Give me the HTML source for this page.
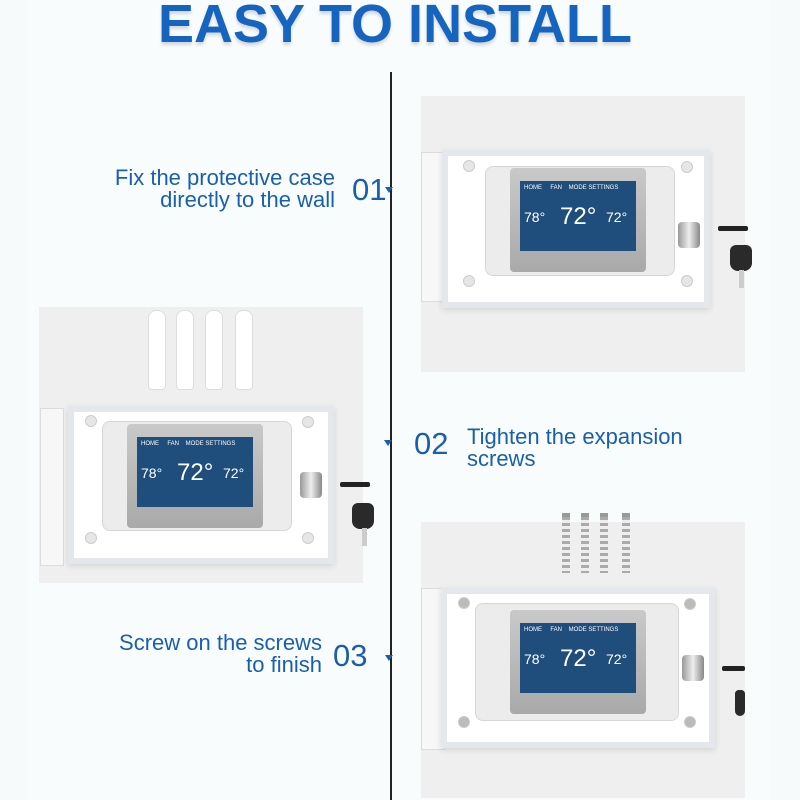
<!DOCTYPE html>
<html><head><meta charset="utf-8"><style>
*{margin:0;padding:0;box-sizing:border-box}
body{width:800px;height:800px;background:#f6fafb;position:relative;overflow:hidden;font-family:"Liberation Sans",sans-serif}
.a{position:absolute}
.panel{position:absolute;background:#efefef}
.case{position:absolute;background:#fff;border:6px solid #e4e8ec;box-shadow:0 2px 6px rgba(0,0,0,.12)}
.door{position:absolute;background:#f7f7f7;border:1px solid #dcdcdc}
.recess{position:absolute;background:#ececec;border:1px solid #d6d6d6;border-radius:8px}
.bez{position:absolute;width:136px;height:104px;background:linear-gradient(#c9c9c9,#a9a9a9);border-radius:4px}
.scr{position:absolute;left:10px;top:13px;width:116px;height:70px;background:#1f4e7c;color:#fff;font-size:5px}
.scr span{position:absolute}
.hole{position:absolute;width:12px;height:12px;border-radius:50%;background:#e6e6e6;border:1px solid #ccc}
.title{position:absolute;left:0;width:790px;top:-7px;text-align:center;font-size:54px;font-weight:bold;color:#1565c0;letter-spacing:0px;text-shadow:0 3px 3px rgba(0,0,0,.15)}
.txt{position:absolute;color:#1a5fae;font-size:22px;line-height:22px}
.num{position:absolute;color:#1a5fae;font-size:31px}
.tri{position:absolute;width:0;height:0;border-left:4px solid transparent;border-right:4px solid transparent;border-top:6px solid #1a5fae}
.lock{position:absolute;width:22px;height:26px;background:linear-gradient(90deg,#999,#eee,#888);border-radius:4px}
.kb{position:absolute;width:30px;height:5px;background:#222;border-radius:2px}
.key{position:absolute;width:22px;height:26px;background:#2a2a2a;border-radius:6px 6px 8px 8px}
.kt{position:absolute;width:5px;height:18px;background:#ccc}
.anchor{position:absolute;width:18px;height:80px;background:#fff;border:1px solid #ddd;border-radius:8px 8px 4px 4px}
.screw{position:absolute;width:8px;height:60px;background:repeating-linear-gradient(#aaa 0 3px,#eee 3px 6px);border-top:4px solid #999}
</style></head><body>
<div class="a" style="left:28px;top:0;width:742px;height:800px;background:#f9fcfd"></div>
<div class="title">EASY TO INSTALL</div>
<div class="a" style="left:390px;top:72px;width:2px;height:728px;background:#222"></div>

<div class="txt" style="left:40px;top:167px;width:295px;text-align:right">Fix the protective case<br>directly to the wall</div>
<div class="num" style="left:352px;top:172px">01</div>
<div class="tri" style="left:385px;top:187px"></div>
<div class="tri" style="left:384px;top:440px"></div>
<div class="num" style="left:414px;top:426px">02</div>
<div class="txt" style="left:467px;top:426px">Tighten the expansion<br>screws</div>
<div class="txt" style="left:40px;top:632px;width:282px;text-align:right">Screw on the screws<br>to finish</div>
<div class="num" style="left:333px;top:638px">03</div>
<div class="tri" style="left:385px;top:655px"></div>

<!-- panel 1 -->
<div class="panel" style="left:421px;top:96px;width:324px;height:276px"></div>
<div class="door" style="left:421px;top:152px;width:24px;height:150px"></div>
<div class="case" style="left:442px;top:150px;width:268px;height:158px"></div>
<div class="recess" style="left:485px;top:166px;width:190px;height:110px"></div>
<div class="hole" style="left:463px;top:160px"></div><div class="hole" style="left:681px;top:161px"></div>
<div class="hole" style="left:463px;top:275px"></div><div class="hole" style="left:681px;top:275px"></div>
<div class="bez" style="left:510px;top:168px"><div class="scr"><span style="left:4px;top:4px;font-size:6px">HOME&nbsp;&nbsp;&nbsp;&nbsp;&nbsp;FAN&nbsp;&nbsp;&nbsp;&nbsp;MODE&nbsp;SETTINGS</span><span style="left:4px;top:28px;font-size:14px">78°</span><span style="left:40px;top:22px;font-size:24px">72°</span><span style="left:86px;top:28px;font-size:14px">72°</span></div></div>
<div class="lock" style="left:678px;top:222px"></div>
<div class="kb" style="left:718px;top:226px"></div>
<div class="key" style="left:730px;top:245px"></div><div class="kt" style="left:739px;top:270px"></div>

<!-- panel 2 -->
<div class="panel" style="left:39px;top:307px;width:324px;height:276px"></div>
<div class="anchor" style="left:148px;top:310px"></div><div class="anchor" style="left:176px;top:310px"></div><div class="anchor" style="left:205px;top:310px"></div><div class="anchor" style="left:235px;top:310px"></div>
<div class="door" style="left:40px;top:408px;width:24px;height:158px"></div>
<div class="case" style="left:68px;top:406px;width:266px;height:158px"></div>
<div class="recess" style="left:102px;top:421px;width:190px;height:110px"></div>
<div class="hole" style="left:85px;top:415px"></div><div class="hole" style="left:302px;top:416px"></div>
<div class="hole" style="left:85px;top:532px"></div><div class="hole" style="left:302px;top:532px"></div>
<div class="bez" style="left:127px;top:424px"><div class="scr"><span style="left:4px;top:4px;font-size:6px">HOME&nbsp;&nbsp;&nbsp;&nbsp;&nbsp;FAN&nbsp;&nbsp;&nbsp;&nbsp;MODE&nbsp;SETTINGS</span><span style="left:4px;top:28px;font-size:14px">78°</span><span style="left:40px;top:22px;font-size:24px">72°</span><span style="left:86px;top:28px;font-size:14px">72°</span></div></div>
<div class="lock" style="left:300px;top:472px"></div>
<div class="kb" style="left:340px;top:482px"></div>
<div class="key" style="left:352px;top:503px"></div><div class="kt" style="left:362px;top:528px"></div>

<!-- panel 3 -->
<div class="panel" style="left:421px;top:522px;width:324px;height:276px"></div>
<div class="screw" style="left:562px;top:513px"></div><div class="screw" style="left:581px;top:513px"></div><div class="screw" style="left:600px;top:513px"></div><div class="screw" style="left:622px;top:513px"></div>
<div class="door" style="left:421px;top:588px;width:24px;height:162px"></div>
<div class="case" style="left:441px;top:588px;width:274px;height:160px"></div>
<div class="recess" style="left:475px;top:603px;width:204px;height:118px"></div>
<div class="hole" style="left:458px;top:597px;background:#bbb"></div><div class="hole" style="left:684px;top:598px;background:#bbb"></div>
<div class="hole" style="left:458px;top:716px;background:#bbb"></div><div class="hole" style="left:684px;top:716px;background:#bbb"></div>
<div class="bez" style="left:510px;top:610px"><div class="scr"><span style="left:4px;top:4px;font-size:6px">HOME&nbsp;&nbsp;&nbsp;&nbsp;&nbsp;FAN&nbsp;&nbsp;&nbsp;&nbsp;MODE&nbsp;SETTINGS</span><span style="left:4px;top:28px;font-size:14px">78°</span><span style="left:40px;top:22px;font-size:24px">72°</span><span style="left:86px;top:28px;font-size:14px">72°</span></div></div>
<div class="lock" style="left:682px;top:655px"></div>
<div class="kb" style="left:722px;top:666px;width:23px"></div>
<div class="key" style="left:735px;top:690px;width:10px"></div>
</body></html>
